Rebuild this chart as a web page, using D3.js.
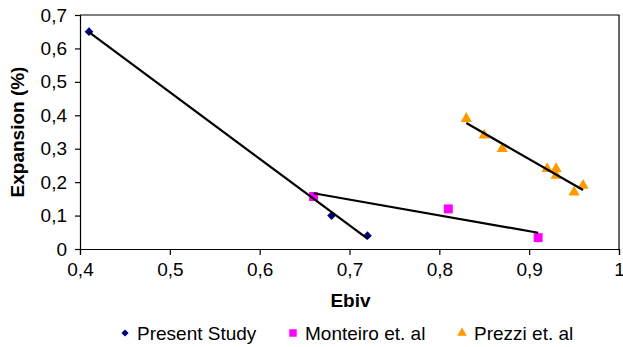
<!DOCTYPE html>
<html lang="en">
<head>
  <meta charset="utf-8" />
  <script src="https://d3js.org/d3.v7.min.js"></script>
  <style>
    body { margin: 0; background: #fff; }
    svg { display: block; font-family: "Liberation Sans", Arial, sans-serif; }
  </style>
</head>
<body>
<svg width="623" height="347"></svg>
<script>
// data
var seriesNames = ["Present Study", "Monteiro et. al", "Prezzi et. al"];
var presentX = [0.41, 0.68, 0.72];
var presentY = [0.65, 0.10, 0.04];
var monteiroX = [0.66, 0.81, 0.91];
var monteiroY = [0.157, 0.12, 0.034];
var prezziX = [0.83, 0.85, 0.87, 0.92, 0.93, 0.93, 0.95, 0.96];
var prezziY = [0.39, 0.34, 0.30, 0.24, 0.24, 0.22, 0.17, 0.19];
var xTicks = [0.4, 0.5, 0.6, 0.7, 0.8, 0.9, 1.0];
var yTicks = [0, 0.1, 0.2, 0.3, 0.4, 0.5, 0.6, 0.7];

var svg = d3.select("svg");
var plotL = 80, plotR = 619, plotT = 15, plotB = 249;

var x = d3.scaleLinear().domain([0.4, 1.0]).range([plotL, plotR]);
var y = d3.scaleLinear().domain([0, 0.7]).range([plotB, plotT]);

// comma decimals like the original
var fmt = function(d) { return String(+d.toFixed(1)).replace(".", ","); };

// plot frame (top and right)
svg.append("path")
  .attr("d", "M" + plotL + "," + plotT + "H" + plotR + "V" + plotB)
  .attr("fill", "none")
  .attr("stroke", "#000")
  .attr("stroke-width", 1.2);

var xAxis = svg.append("g")
  .attr("transform", "translate(0," + plotB + ")")
  .call(d3.axisBottom(x).tickValues(xTicks).tickFormat(fmt).tickSizeOuter(0).tickSize(6).tickPadding(8));
var yAxis = svg.append("g")
  .attr("transform", "translate(" + plotL + ",0)")
  .call(d3.axisLeft(y).tickValues(yTicks).tickFormat(fmt).tickSizeOuter(0).tickSize(5).tickPadding(8));

[xAxis, yAxis].forEach(function(a) {
  a.selectAll("path, line").attr("stroke", "#000").attr("stroke-width", 1.2);
  a.selectAll("text").attr("font-size", 19).attr("fill", "#000")
    .attr("font-family", "'Liberation Sans', Arial, sans-serif");
});

svg.append("text")
  .attr("x", (plotL + plotR) / 2 + 1)
  .attr("y", 307)
  .attr("text-anchor", "middle")
  .attr("font-weight", "bold")
  .attr("font-size", 19)
  .text("Ebiv");

svg.append("text")
  .attr("transform", "translate(24," + ((plotT + plotB) / 2) + ") rotate(-90)")
  .attr("text-anchor", "middle")
  .attr("font-weight", "bold")
  .attr("font-size", 19)
  .text("Expansion (%)");

// least squares trend line over the x range of a series
function trend(xs, ys) {
  var mx = d3.mean(xs), my = d3.mean(ys);
  var sxy = d3.sum(xs, function(v, i) { return (v - mx) * (ys[i] - my); });
  var sxx = d3.sum(xs, function(v) { return (v - mx) * (v - mx); });
  var b = sxy / sxx, a = my - b * mx;
  var ext = d3.extent(xs);
  return [[ext[0], a + b * ext[0]], [ext[1], a + b * ext[1]]];
}

// square rotated 45deg gives Excel's diamond
var series = [
  { xs: presentX, ys: presentY, color: "#000080", symbol: d3.symbolSquare, rot: 45, size: 38, lsize: 26 },
  { xs: monteiroX, ys: monteiroY, color: "#ff00ff", symbol: d3.symbolSquare, rot: 0, size: 80, lsize: 56 },
  { xs: prezziX, ys: prezziY, color: "#ff9900", symbol: d3.symbolTriangle, rot: 0, size: 55, lsize: 40 }
];

var line = d3.line().x(function(d) { return x(d[0]); }).y(function(d) { return y(d[1]); });

series.forEach(function(s) {
  svg.append("g").selectAll("path")
    .data(s.xs.map(function(v, i) { return [v, s.ys[i]]; }))
    .enter().append("path")
    .attr("transform", function(d) { return "translate(" + x(d[0]) + "," + y(d[1]) + ") rotate(" + s.rot + ")"; })
    .attr("d", d3.symbol().type(s.symbol).size(s.size))
    .attr("fill", s.color);
});

series.forEach(function(s) {
  svg.append("path")
    .datum(trend(s.xs, s.ys))
    .attr("d", line)
    .attr("fill", "none")
    .attr("stroke", "#000")
    .attr("stroke-width", 2.2);
});

// legend
var legendX = [125, 293, 462];
var legend = svg.append("g");
series.forEach(function(s, i) {
  legend.append("path")
    .attr("transform", "translate(" + legendX[i] + ",333) rotate(" + s.rot + ")")
    .attr("d", d3.symbol().type(s.symbol).size(s.lsize))
    .attr("fill", s.color);
  legend.append("text")
    .attr("x", legendX[i] + 12)
    .attr("y", 339.5)
    .attr("font-size", 19)
    .text(seriesNames[i]);
});
</script>
</body>
</html>
